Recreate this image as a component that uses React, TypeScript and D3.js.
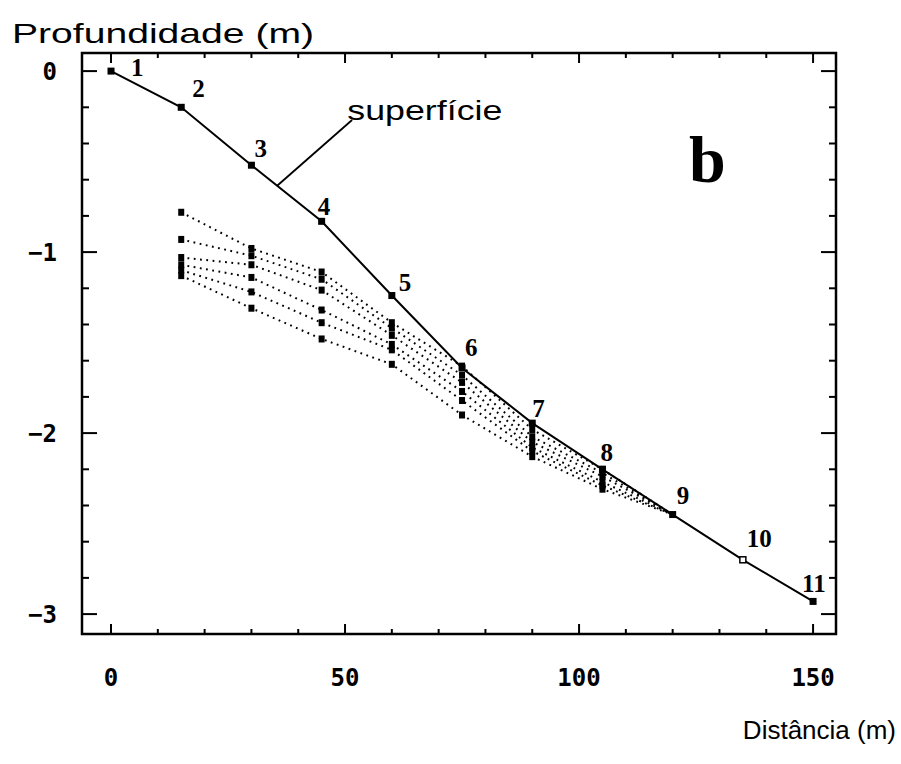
import React from "react";
import * as d3 from "d3";

// Surface profile stations: distance (m) and depth (m)
const SURFACE_DIST = [0, 15, 30, 45, 60, 75, 90, 105, 120, 135, 150];
const SURFACE_DEPTH = [0, -0.2, -0.52, -0.83, -1.24, -1.64, -1.945, -2.2, -2.45, -2.7, -2.93];
const STATION_LABELS = ["1", "2", "3", "4", "5", "6", "7", "8", "9", "10", "11"];

// Subsurface layers measured at the stations (last value joins station 9)
const LAYER_DIST = [15, 30, 45, 60, 75, 90, 105, 120];
const LAYER_A = [-0.78, -0.98, -1.11, -1.39, -1.63, -1.98, -2.2, -2.45];
const LAYER_B = [-0.93, -1.02, -1.15, -1.42, -1.68, -2.02, -2.22, -2.45];
const LAYER_C = [-1.03, -1.07, -1.21, -1.46, -1.72, -2.05, -2.24, -2.45];
const LAYER_D = [-1.07, -1.14, -1.32, -1.51, -1.77, -2.08, -2.27, -2.45];
const LAYER_E = [-1.1, -1.22, -1.39, -1.54, -1.82, -2.1, -2.29, -2.45];
const LAYER_F = [-1.13, -1.31, -1.48, -1.62, -1.9, -2.13, -2.31, -2.45];

const X_MAJOR = [0, 50, 100, 150];
const X_MINOR = [0, 10, 20, 30, 40, 50, 60, 70, 80, 90, 100, 110, 120, 130, 140, 150];
const Y_MAJOR = [0, -1, -2, -3];
const Y_MINOR = [0, -0.2, -0.4, -0.6, -0.8, -1, -1.2, -1.4, -1.6, -1.8, -2, -2.2, -2.4, -2.6, -2.8, -3];

const Y_LABEL = "Profundidade (m)";
const X_LABEL = "Distância (m)";
const SURFACE_NAME = "superfície";
const PANEL = "b";

// label placement relative to each station marker
const LABEL_NUDGE: [number, number][] = [
  [20, 5], [11, -10], [3, -8], [-4, -6], [7, -5], [3, -12],
  [0, -6], [-2, -8], [4, -11], [4, -13], [-11, -9],
];

const LEFT = 82, RIGHT = 836, TOP = 53, BOTTOM = 634;

export default function App() {
  const x = d3.scaleLinear().domain([-6.2, 154.9]).range([LEFT, RIGHT]);
  const y = d3.scaleLinear().domain([0.1, -3.11]).range([TOP, BOTTOM]);

  const surfaceLine = d3
    .line<number>()
    .x((_, i) => x(SURFACE_DIST[i]))
    .y((d) => y(d));

  const layers = [LAYER_A, LAYER_B, LAYER_C, LAYER_D, LAYER_E, LAYER_F];
  const layerLine = d3
    .line<number>()
    .x((_, i) => x(LAYER_DIST[i]))
    .y((d) => y(d));

  // leader from the surface line to the annotation
  const leadX0 = 35.5;
  const leadY0 = d3.scaleLinear().domain([30, 45]).range([SURFACE_DEPTH[2], SURFACE_DEPTH[3]])(leadX0);

  const mono = "'DejaVu Sans Mono', monospace";
  const serif = "'Liberation Serif', 'DejaVu Serif', serif";
  const sans = "'Liberation Sans', Arial, sans-serif";

  return (
    <svg
      width={901}
      height={764}
      style={{ position: "absolute", left: 0, top: 0, background: "#fff" }}
    >
      <rect x={0} y={0} width={901} height={764} fill="#fff" />

      {/* dotted subsurface layers */}
      {layers.map((vals, li) => (
        <g key={li}>
          <path
            d={layerLine(vals) || ""}
            fill="none"
            stroke="#000"
            strokeWidth={2}
            strokeDasharray="1.8 4.5"
          />
          {vals.slice(0, vals.length - 1).map((v, i) => (
            <rect
              key={i}
              x={x(LAYER_DIST[i]) - 3}
              y={y(v) - 3.5}
              width={6}
              height={7}
              fill="#000"
            />
          ))}
        </g>
      ))}

      {/* surface profile */}
      <path d={surfaceLine(SURFACE_DEPTH) || ""} fill="none" stroke="#000" strokeWidth={2} />
      {SURFACE_DEPTH.map((v, i) =>
        i === 9 ? (
          <rect key={i} x={x(SURFACE_DIST[i]) - 3} y={y(v) - 3} width={6} height={6} fill="#fff" stroke="#000" strokeWidth={1.5} />
        ) : (
          <rect key={i} x={x(SURFACE_DIST[i]) - 3.5} y={y(v) - 3.5} width={7} height={7} fill="#000" />
        )
      )}
      {SURFACE_DEPTH.map((v, i) => (
        <text
          key={i}
          x={x(SURFACE_DIST[i]) + LABEL_NUDGE[i][0]}
          y={y(v) + LABEL_NUDGE[i][1]}
          fontFamily={serif}
          fontWeight="bold"
          fontSize={25}
        >
          {STATION_LABELS[i]}
        </text>
      ))}

      {/* annotation */}
      <line x1={x(leadX0)} y1={y(leadY0)} x2={x(51.5)} y2={y(-0.27)} stroke="#000" strokeWidth={1.8} />
      <text x={x(50.5)} y={y(-0.27)} fontFamily={sans} fontSize={28} textLength={155} lengthAdjust="spacingAndGlyphs">
        {SURFACE_NAME}
      </text>
      <text x={689} y={182} fontFamily={serif} fontWeight="bold" fontSize={66}>
        {PANEL}
      </text>

      {/* frame */}
      <rect x={LEFT} y={TOP} width={RIGHT - LEFT} height={BOTTOM - TOP} fill="none" stroke="#000" strokeWidth={2.5} />

      {/* ticks on all four sides, pointing inward */}
      {X_MINOR.map((t) => {
        const len = X_MAJOR.includes(t) ? 10 : 5;
        return (
          <g key={"x" + t}>
            <line x1={x(t)} x2={x(t)} y1={BOTTOM} y2={BOTTOM - len} stroke="#000" strokeWidth={2} />
            <line x1={x(t)} x2={x(t)} y1={TOP} y2={TOP + len} stroke="#000" strokeWidth={2} />
          </g>
        );
      })}
      {Y_MINOR.map((t) => {
        const len = Y_MAJOR.includes(t) ? 15 : 7;
        return (
          <g key={"y" + t}>
            <line x1={LEFT} x2={LEFT + len} y1={y(t)} y2={y(t)} stroke="#000" strokeWidth={2} />
            <line x1={RIGHT} x2={RIGHT - len} y1={y(t)} y2={y(t)} stroke="#000" strokeWidth={2} />
          </g>
        );
      })}

      {/* tick labels */}
      {X_MAJOR.map((t) => (
        <text key={t} x={x(t)} y={686} textAnchor="middle" fontFamily={mono} fontWeight="bold" fontSize={24}>
          {t}
        </text>
      ))}
      {Y_MAJOR.map((t) => (
        <text key={t} x={57} y={y(t)} dy="0.36em" textAnchor="end" fontFamily={mono} fontWeight="bold" fontSize={24}>
          {t === 0 ? "0" : "\u2212" + Math.abs(t)}
        </text>
      ))}

      {/* axis titles */}
      <text x={12} y={43} fontFamily={sans} fontSize={28} textLength={302} lengthAdjust="spacingAndGlyphs">
        {Y_LABEL}
      </text>
      <text x={896} y={739} textAnchor="end" fontFamily={sans} fontSize={26}>
        {X_LABEL}
      </text>
    </svg>
  );
}
